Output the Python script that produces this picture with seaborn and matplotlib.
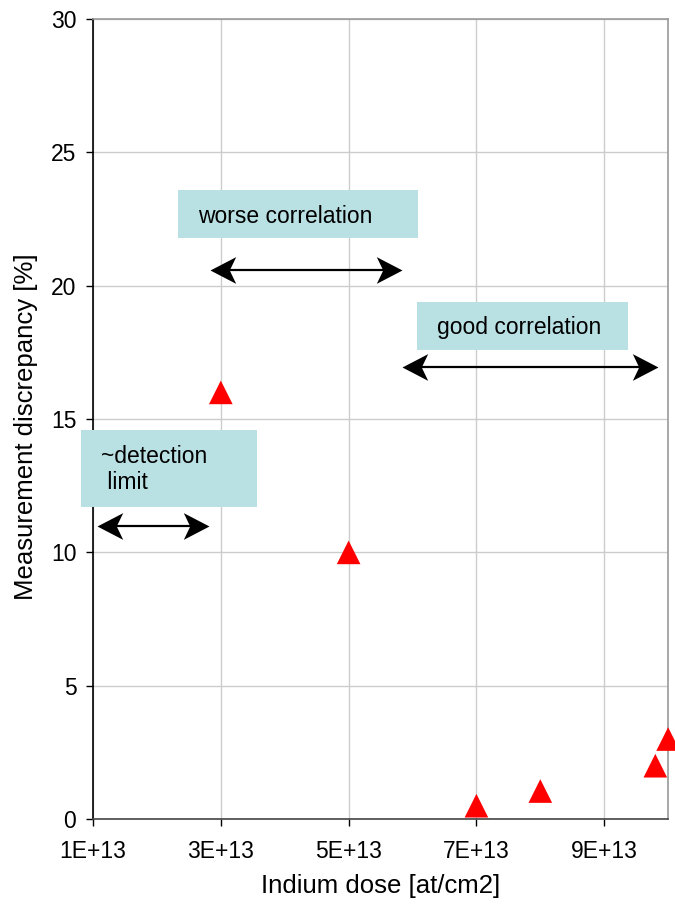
import pandas as pd
import matplotlib
matplotlib.use("Agg")
from matplotlib import pyplot as plt
from matplotlib.path import Path
import seaborn as sns

# values
dose = [3e13, 5e13, 7e13, 8e13, 9.8e13, 1e14]
discrepancy = [16.0, 10.0, 0.5, 1.05, 2.0, 3.0]
xticks = [1e13, 3e13, 5e13, 7e13, 9e13]
xticklabels = ["1E+13", "3E+13", "5E+13", "7E+13", "9E+13"]
yticks = [0, 5, 10, 15, 20, 25, 30]

df = pd.DataFrame({"dose": dose, "disc": discrepancy})

sns.set_style("white")
plt.rcParams['font.family'] = ['Liberation Sans', 'DejaVu Sans']
plt.rcParams['text.color'] = 'black'
plt.rcParams['axes.labelcolor'] = 'black'

fig = plt.figure(figsize=(6.75, 9.07), dpi=100)
ax = fig.add_axes([0.1378, 0.097, 0.852, 0.882])

sns.scatterplot(data=df, x="dose", y="disc", marker="^", color="#ff0000",
                s=290, edgecolor="none", ax=ax, zorder=5, clip_on=False)

ax.set_xlim(1e13, 1e14)
ax.set_ylim(0, 30)
ax.set_xticks(xticks)
ax.set_xticklabels(xticklabels)
ax.set_yticks(yticks)
ax.grid(True, color="#cccccc", linewidth=1)
ax.set_axisbelow(True)
ax.tick_params(axis="both", labelsize=16.5, direction="out", length=5,
               width=1, colors="black", labelcolor="black",
               bottom=True, left=True)
ax.tick_params(axis="x", pad=10)
ax.tick_params(axis="y", pad=7)
for side in ["top", "right"]:
    ax.spines[side].set_color("#999999")
ax.spines["left"].set_color("black")
ax.spines["bottom"].set_color("#444444")
for sp in ax.spines.values():
    sp.set_linewidth(1.2)

ax.set_xlabel("Indium dose [at/cm2]", fontsize=18.5, color="black")
ax.set_ylabel("Measurement discrepancy [%]", fontsize=18.5, color="black")
ax.xaxis.set_label_coords(0.5, -0.069)
ax.yaxis.set_label_coords(-0.095, 0.49)

# annotation boxes
box_color = "#b9e0e3"
boxes = [
    (2.33e13, 21.78, 3.76e13, 1.8, "worse correlation", 2.64e13, 22.6),
    (6.07e13, 17.59, 3.30e13, 1.8, "good correlation", 6.38e13, 18.45),
    (0.81e13, 11.70, 2.76e13, 2.89, "~detection\n limit", 1.125e13, 13.1),
]
for x0, y0, w, h, label, tx, ty in boxes:
    ax.add_patch(plt.Rectangle((x0, y0), w, h, facecolor=box_color,
                               edgecolor="none", zorder=3, clip_on=False))
    ax.text(tx, ty, label, fontsize=16.5, va="center", ha="left", zorder=4,
            linespacing=1.15, color="black")

# double arrows with concave (stealth) heads
head_r = Path([(0, 0), (-1, 0.52), (-0.75, 0), (-1, -0.52), (0, 0)],
              [Path.MOVETO, Path.LINETO, Path.LINETO, Path.LINETO, Path.CLOSEPOLY])
head_l = Path([(0, 0), (1, 0.52), (0.75, 0), (1, -0.52), (0, 0)],
              [Path.MOVETO, Path.LINETO, Path.LINETO, Path.LINETO, Path.CLOSEPOLY])
arrows = [
    (2.83e13, 5.84e13, 20.58),
    (5.84e13, 9.84e13, 16.95),
    (1.06e13, 2.82e13, 10.99),
]
for xa, xb, ya in arrows:
    ax.plot([xa + 0.15e13, xb - 0.15e13], [ya, ya], color="black", lw=1.6,
            zorder=4, clip_on=False)
    ax.plot([xa], [ya], marker=head_l, markersize=37, color="black",
            markeredgewidth=0, zorder=4, clip_on=False)
    ax.plot([xb], [ya], marker=head_r, markersize=37, color="black",
            markeredgewidth=0, zorder=4, clip_on=False)

fig.savefig("out.png", dpi=100)
